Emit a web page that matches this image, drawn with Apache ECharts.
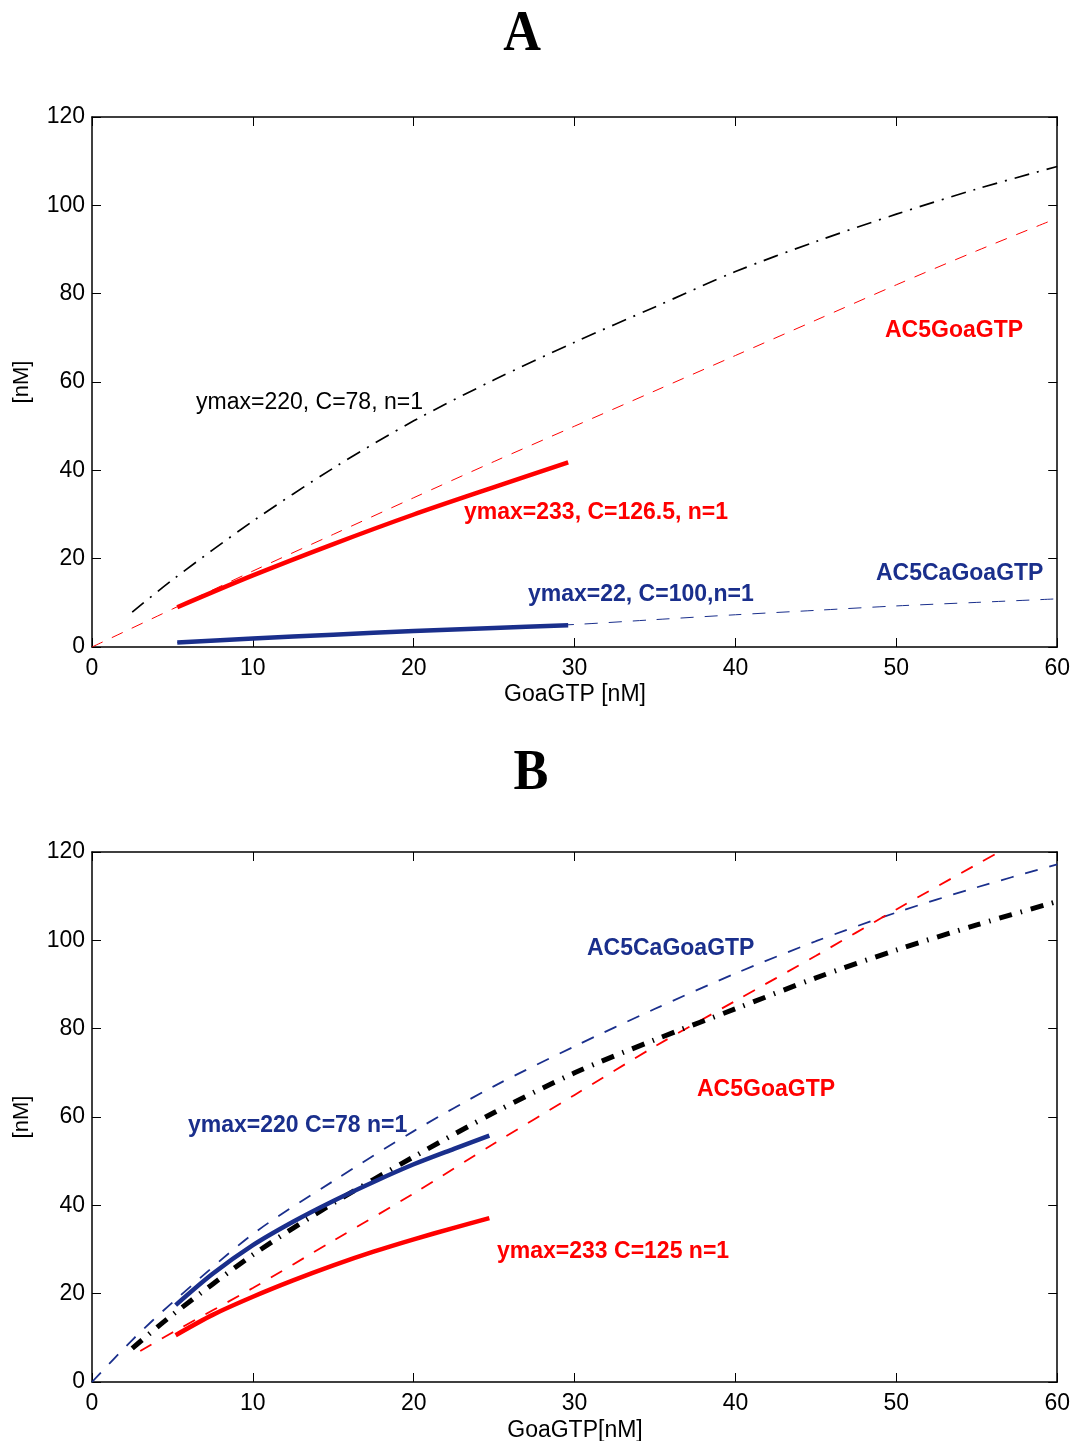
<!DOCTYPE html>
<html>
<head>
<meta charset="utf-8">
<script src="https://cdn.jsdelivr.net/npm/echarts@6/dist/echarts.min.js"></script>
<style>
html,body{margin:0;padding:0;background:#fff;}
#chart{width:1073px;height:1441px;}
</style>
</head>
<body>
<div id="chart"></div>
<script>
// ---- Data (x = GoaGTP nM, y = nM) ----
const xTicks = [0, 10, 20, 30, 40, 50, 60];
const yTicks = [0, 20, 40, 60, 80, 100, 120];

// Panel A
const aBlackDashDot = [[2.5,7.9],[5,15.2],[10,28.5],[15,40.5],[20,51.2],[25,60.5],[30,69],[35,77],[40,85],[45,91.8],[50,98],[55,103.7],[60,108.8]];
const aRedDashed = [[0,0],[5,8.6],[10,17.2],[15,25.5],[20,33.8],[25,42],[30,50],[35,58],[40,66],[45,74],[50,82],[55,89.7],[60,97.1]];
const aRedSolid = [[5.3,9.0],[10,16.2],[15,23.3],[20,30],[25,36.2],[29.6,41.8]];
const aBlueSolid = [[5.3,1.0],[10,1.9],[15,2.8],[20,3.6],[25,4.3],[29.6,4.9]];
const aBlueDashed = [[5.3,1.0],[10,1.9],[15,2.8],[20,3.6],[25,4.4],[30,5.1],[35,6.2],[40,7.3],[45,8.3],[50,9.3],[55,10.1],[60,10.9]];

// Panel B
const bBlueDashed = [[0,0],[2.5,9.5],[5,18],[10,33.5],[15,45.5],[20,56.8],[25,67],[30,76],[35,84.5],[40,92.5],[45,99.8],[50,106.3],[55,112],[60,117.2]];
const bRedDashed = [[3,7],[5,11.2],[10,21.3],[15,32],[20,42.7],[25,54],[30,65],[35,76],[40,86.3],[45,96.5],[50,107],[55,117.2],[56.4,120]];
const bBlackDashDot = [[2.5,7.6],[5,15.2],[10,28.8],[15,40.5],[20,51],[25,61],[30,70],[35,77.5],[40,84.5],[45,91.5],[50,97.8],[55,103.5],[60,108.8]];
const bBlueSolid = [[5.2,17.4],[7.5,24.5],[10,31],[12.5,36.3],[15,41],[17.5,45.3],[20,49.3],[22.5,52.8],[24.7,55.8]];
const bRedSolid = [[5.2,10.6],[7.5,15.2],[10,19.3],[12.5,23.0],[15,26.4],[17.5,29.5],[20,32.3],[22.5,34.9],[24.7,37.1]];

// ---- Styling ----
const RED = '#ff0000';
const NAVY = '#1a2f8c';
const FONT = "'Liberation Sans', Arial, Helvetica, sans-serif";
const SERIF = "bold 58px 'Liberation Serif', 'Times New Roman', serif";

const chart = echarts.init(document.getElementById('chart'), null, {renderer: 'canvas'});

function xAx(grid, pos, labels) {
  return {
    type: 'value', gridIndex: grid, position: pos,
    min: xTicks[0], max: xTicks[xTicks.length - 1], interval: xTicks[1] - xTicks[0],
    axisLine: {show: true, onZero: false, lineStyle: {color: '#000', width: 1.5}},
    axisTick: {show: true, inside: true, length: 9, lineStyle: {color: '#000', width: 1}},
    axisLabel: {show: labels, color: '#000', fontSize: 23, fontFamily: FONT, margin: 10},
    splitLine: {show: false}
  };
}
function yAx(grid, pos, labels) {
  return {
    type: 'value', gridIndex: grid, position: pos,
    min: yTicks[0], max: yTicks[yTicks.length - 1], interval: yTicks[1] - yTicks[0],
    axisLine: {show: true, onZero: false, lineStyle: {color: '#000', width: 1.5}},
    axisTick: {show: true, inside: true, length: 9, lineStyle: {color: '#000', width: 1}},
    axisLabel: {show: labels, color: '#000', fontSize: 23, fontFamily: FONT, margin: 7, padding: [10, 0, 0, 0]},
    splitLine: {show: false}
  };
}
function line(data, xi, yi, color, width, type, z) {
  return {
    type: 'line', data: data, xAxisIndex: xi, yAxisIndex: yi,
    smooth: 0.3, showSymbol: false, symbol: 'none', clip: true, z: z || 2,
    lineStyle: {color: color, width: width, type: type, cap: 'butt'},
    animation: false
  };
}
function txt(t, left, cy, color, bold, size) {
  const s = size || 23;
  return {
    type: 'text', x: left, y: cy, z: 10,
    style: {text: t, fill: color, font: (bold ? 'bold ' : '') + s + 'px ' + FONT, textAlign: 'left', textVerticalAlign: 'middle'}
  };
}

const option = {
  backgroundColor: '#fff',
  animation: false,
  grid: [
    {left: 92, top: 117, width: 966, height: 530},
    {left: 92, top: 852, width: 966, height: 530}
  ],
  xAxis: [xAx(0, 'bottom', true), xAx(0, 'top', false), xAx(1, 'bottom', true), xAx(1, 'top', false)],
  yAxis: [yAx(0, 'left', true), yAx(0, 'right', false), yAx(1, 'left', true), yAx(1, 'right', false)],
  series: [
    // Panel A
    line(aBlackDashDot, 0, 0, '#000', 1.7, [15, 8, 2, 8], 2),
    line(aBlueSolid, 0, 0, NAVY, 4.5, 'solid', 3),
    line(aBlueDashed, 0, 0, NAVY, 1, [13, 11], 4),
    line(aRedSolid, 0, 0, RED, 4.5, 'solid', 3),
    line(aRedDashed, 0, 0, RED, 1, [12, 10], 4),
    // Panel B
    line(bBlueDashed, 2, 2, NAVY, 1.8, [13, 12], 2),
    line(bRedDashed, 2, 2, RED, 1.8, [13, 12], 2),
    line(bBlackDashDot, 2, 2, '#000', 5, [13, 9, 1.5, 9], 3),
    line(bBlueSolid, 2, 2, NAVY, 4.5, 'solid', 4),
    line(bRedSolid, 2, 2, RED, 4.5, 'solid', 4)
  ],
  graphic: [
    // panel titles
    {type: 'text', x: 522, y: 35, scaleX: 0.9, z: 10, style: {text: 'A', fill: '#000', font: SERIF, textAlign: 'center', textVerticalAlign: 'middle'}},
    {type: 'text', x: 531, y: 774, scaleX: 0.9, z: 10, style: {text: 'B', fill: '#000', font: SERIF, textAlign: 'center', textVerticalAlign: 'middle'}},
    // axis titles
    {type: 'text', x: 575, y: 695, z: 10, style: {text: 'GoaGTP [nM]', fill: '#000', font: '23px ' + FONT, textAlign: 'center', textVerticalAlign: 'middle'}},
    {type: 'text', x: 575, y: 1431, z: 10, style: {text: 'GoaGTP[nM]', fill: '#000', font: '23px ' + FONT, textAlign: 'center', textVerticalAlign: 'middle'}},
    {type: 'text', x: 22, y: 382, rotation: Math.PI / 2, z: 10, style: {text: '[nM]', fill: '#000', font: '22px ' + FONT, textAlign: 'center', textVerticalAlign: 'middle'}},
    {type: 'text', x: 22, y: 1117, rotation: Math.PI / 2, z: 10, style: {text: '[nM]', fill: '#000', font: '22px ' + FONT, textAlign: 'center', textVerticalAlign: 'middle'}},
    // panel A annotations
    txt('ymax=220, C=78, n=1', 196, 403, '#000', false),
    txt('AC5GoaGTP', 885, 331, RED, true),
    txt('ymax=233, C=126.5, n=1', 464, 513, RED, true),
    txt('ymax=22, C=100,n=1', 528, 595, NAVY, true),
    txt('AC5CaGoaGTP', 876, 574, NAVY, true),
    // panel B annotations
    txt('AC5CaGoaGTP', 587, 949, NAVY, true),
    txt('AC5GoaGTP', 697, 1090, RED, true),
    txt('ymax=220 C=78 n=1', 188, 1126, NAVY, true),
    txt('ymax=233 C=125 n=1', 497, 1252, RED, true)
  ]
};
chart.setOption(option);
</script>
</body>
</html>
